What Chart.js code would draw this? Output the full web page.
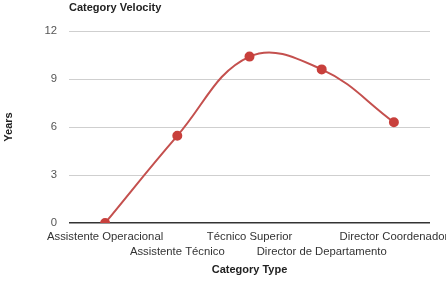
<!DOCTYPE html>
<html>
<head>
<meta charset="utf-8">
<script src="https://cdn.jsdelivr.net/npm/chart.js@4/dist/chart.umd.min.js"></script>
<style>
  html, body { margin: 0; padding: 0; background: #fff; }
  #wrap { width: 446px; height: 281px; }
</style>
</head>
<body>
<div id="wrap"><canvas id="chart"></canvas></div>
<script>
// datos del grafico
const categorias = ['Assistente Operacional', 'Assistente Técnico', 'Técnico Superior', 'Director de Departamento', 'Director Coordenador'];
const anos = [0, 5.45, 10.4, 9.6, 6.3];
const ticksY = [0, 3, 6, 9, 12];

const tituloGrafico = 'Category Velocity';
const tituloX = 'Category Type';
const tituloY = 'Years';

const fontBase = 'Liberation Sans, Arial, Helvetica, sans-serif';

// titulo alineado con el area del grafico
const tituloPlugin = {
    id: 'tituloPlugin',
    afterDraw(chart) {
        const c = chart.ctx;
        c.save();
        c.font = 'bold 11px ' + fontBase;
        c.fillStyle = '#222';
        c.textAlign = 'left';
        c.textBaseline = 'middle';
        c.fillText(tituloGrafico, chart.chartArea.left, 8);
        c.restore();
    }
};

new Chart(document.getElementById('chart'), {
    type: 'line',
    data: {
        labels: categorias,
        datasets: [{
            data: anos,
            borderColor: '#c4504e',
            borderWidth: 2,
            backgroundColor: '#c8403c',
            pointBackgroundColor: '#c8403c',
            pointBorderColor: '#c8403c',
            pointRadius: 4,
            tension: 0.4,
            fill: false
        }]
    },
    options: {
        responsive: true,
        maintainAspectRatio: false,
        animation: false,
        layout: { padding: { top: 31, left: 0, right: 16, bottom: 0 } },
        plugins: {
            legend: { display: false },
            tooltip: { enabled: false }
        },
        scales: {
            x: {
                offset: true,
                grid: { display: false, drawTicks: false },
                border: { display: false },
                ticks: {
                    autoSkip: false,
                    maxRotation: 0,
                    minRotation: 0,
                    padding: 6,
                    color: '#333',
                    font: { family: fontBase, size: 11.3, lineHeight: 1.33 },
                    callback: function (value, i) {
                        const lbl = categorias[i];
                        return i % 2 === 1 ? ['', lbl] : lbl;
                    }
                },
                title: {
                    display: true,
                    text: tituloX,
                    color: '#222',
                    font: { family: fontBase, size: 11, weight: 'bold' },
                    padding: { top: 4, bottom: 4 }
                },
                afterFit: function (s) {
                    s.height = 58;
                    // la ultima etiqueta se sale por la derecha como en el original
                    s.paddingRight = 0;
                }
            },
            y: {
                min: 0,
                max: 12,
                afterBuildTicks: function (s) { s.ticks = ticksY.map(v => ({ value: v })); },
                grid: {
                    drawTicks: false,
                    color: ctx => ctx.tick && ctx.tick.value === 0 ? '#333' : '#cfcfcf',
                    lineWidth: ctx => ctx.tick && ctx.tick.value === 0 ? 1.5 : 1
                },
                border: { display: false },
                ticks: {
                    padding: 12,
                    color: '#555',
                    font: { family: fontBase, size: 11.3 }
                },
                title: {
                    display: true,
                    text: tituloY,
                    color: '#222',
                    font: { family: fontBase, size: 11, weight: 'bold' },
                    padding: { top: 2, bottom: 2 }
                },
                afterFit: function (s) { s.width = 69; }
            }
        }
    },
    plugins: [tituloPlugin]
});
</script>
</body>
</html>
